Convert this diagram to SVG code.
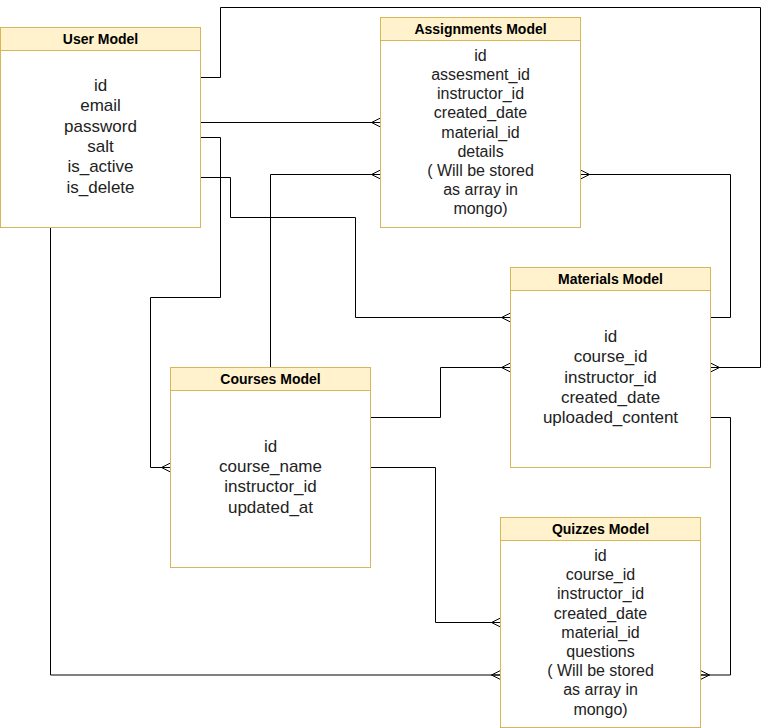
<svg xmlns="http://www.w3.org/2000/svg" width="769" height="728" viewBox="0 0 769 728">
<style>
.box{fill:#ffffff;stroke:#d6b656;stroke-width:1}
.hdr{fill:#fff2cc;stroke:#d6b656;stroke-width:1}
.title{font-family:"Liberation Sans",Arial,sans-serif;font-weight:bold;font-size:14px;fill:#000;text-anchor:middle}
.b17{font-family:"Liberation Sans",Arial,sans-serif;font-size:17px;fill:#222;text-anchor:middle}
.b16{font-family:"Liberation Sans",Arial,sans-serif;font-size:16px;fill:#222;text-anchor:middle}
.conn{fill:none;stroke:#000;stroke-width:1}
</style>
<defs>
<marker id="many" markerUnits="userSpaceOnUse" markerWidth="10" markerHeight="10" refX="10" refY="5" orient="auto" overflow="visible">
<path d="M1,5 L10,0.5 M1,5 L10,9.5 M1,5 L10,5" fill="none" stroke="#000" stroke-width="1"/>
</marker>
</defs>
<rect width="769" height="728" fill="#ffffff"/>
<g id="connectors">
<path class="conn" d="M200.5,77.5 H220.5 V7.5 H760.5 V367.5 H710.5" marker-end="url(#many)"/>
<path class="conn" d="M200.5,122.5 H380.5" marker-end="url(#many)"/>
<path class="conn" d="M200.5,137.5 H220.5 V297.5 H150.5 V467.5 H170.5" marker-end="url(#many)"/>
<path class="conn" d="M200.5,177.5 H230.5 V217.5 H355.5 V317.5 H510.5" marker-end="url(#many)"/>
<path class="conn" d="M50.5,227.5 V675 H500.5" marker-end="url(#many)"/>
<path class="conn" d="M270.5,367.5 V174.5 H380.5" marker-end="url(#many)"/>
<path class="conn" d="M710.5,317.5 H730.5 V174.5 H580.5" marker-end="url(#many)"/>
<path class="conn" d="M370.5,417.5 H440.5 V367.5 H510.5" marker-end="url(#many)"/>
<path class="conn" d="M370.5,467.5 H435.5 V622.5 H500.5" marker-end="url(#many)"/>
<path class="conn" d="M710.5,417.5 H730.5 V675 H700.5" marker-end="url(#many)"/>
</g>
<g id="user">
<rect class="box" x="0.5" y="27.5" width="200" height="200"/>
<rect class="hdr" x="0.5" y="27.5" width="200" height="23"/>
<text class="title" x="100.5" y="44">User Model</text>
<text class="b17" x="100.5" y="91">id</text>
<text class="b17" x="100.5" y="111.4">email</text>
<text class="b17" x="100.5" y="131.7">password</text>
<text class="b17" x="100.5" y="152">salt</text>
<text class="b17" x="100.5" y="172.3">is_active</text>
<text class="b17" x="100.5" y="192.6">is_delete</text>
</g>
<g id="assignments">
<rect class="box" x="380.5" y="17.5" width="200" height="210"/>
<rect class="hdr" x="380.5" y="17.5" width="200" height="23"/>
<text class="title" x="480.5" y="34">Assignments Model</text>
<text class="b16" x="480.5" y="60.7">id</text>
<text class="b16" x="480.5" y="79.9">assesment_id</text>
<text class="b16" x="480.5" y="99.1">instructor_id</text>
<text class="b16" x="480.5" y="118.3">created_date</text>
<text class="b16" x="480.5" y="137.5">material_id</text>
<text class="b16" x="480.5" y="156.7">details</text>
<text class="b16" x="480.5" y="175.9">( Will be stored</text>
<text class="b16" x="480.5" y="195.1">as array in</text>
<text class="b16" x="480.5" y="214.3">mongo)</text>
</g>
<g id="materials">
<rect class="box" x="510.5" y="267.5" width="200" height="200"/>
<rect class="hdr" x="510.5" y="267.5" width="200" height="23"/>
<text class="title" x="610.5" y="284">Materials Model</text>
<text class="b17" x="610.5" y="342">id</text>
<text class="b17" x="610.5" y="362.3">course_id</text>
<text class="b17" x="610.5" y="382.6">instructor_id</text>
<text class="b17" x="610.5" y="402.9">created_date</text>
<text class="b17" x="610.5" y="423.2">uploaded_content</text>
</g>
<g id="courses">
<rect class="box" x="170.5" y="367.5" width="200" height="200"/>
<rect class="hdr" x="170.5" y="367.5" width="200" height="23"/>
<text class="title" x="270.5" y="384">Courses Model</text>
<text class="b17" x="270.5" y="451.7">id</text>
<text class="b17" x="270.5" y="472">course_name</text>
<text class="b17" x="270.5" y="492.3">instructor_id</text>
<text class="b17" x="270.5" y="512.6">updated_at</text>
</g>
<g id="quizzes">
<rect class="box" x="500.5" y="517.5" width="200" height="210"/>
<rect class="hdr" x="500.5" y="517.5" width="200" height="23"/>
<text class="title" x="600.5" y="534">Quizzes Model</text>
<text class="b16" x="600.5" y="561">id</text>
<text class="b16" x="600.5" y="580.2">course_id</text>
<text class="b16" x="600.5" y="599.4">instructor_id</text>
<text class="b16" x="600.5" y="618.6">created_date</text>
<text class="b16" x="600.5" y="637.8">material_id</text>
<text class="b16" x="600.5" y="657">questions</text>
<text class="b16" x="600.5" y="676.2">( Will be stored</text>
<text class="b16" x="600.5" y="695.4">as array in</text>
<text class="b16" x="600.5" y="714.6">mongo)</text>
</g>
</svg>
